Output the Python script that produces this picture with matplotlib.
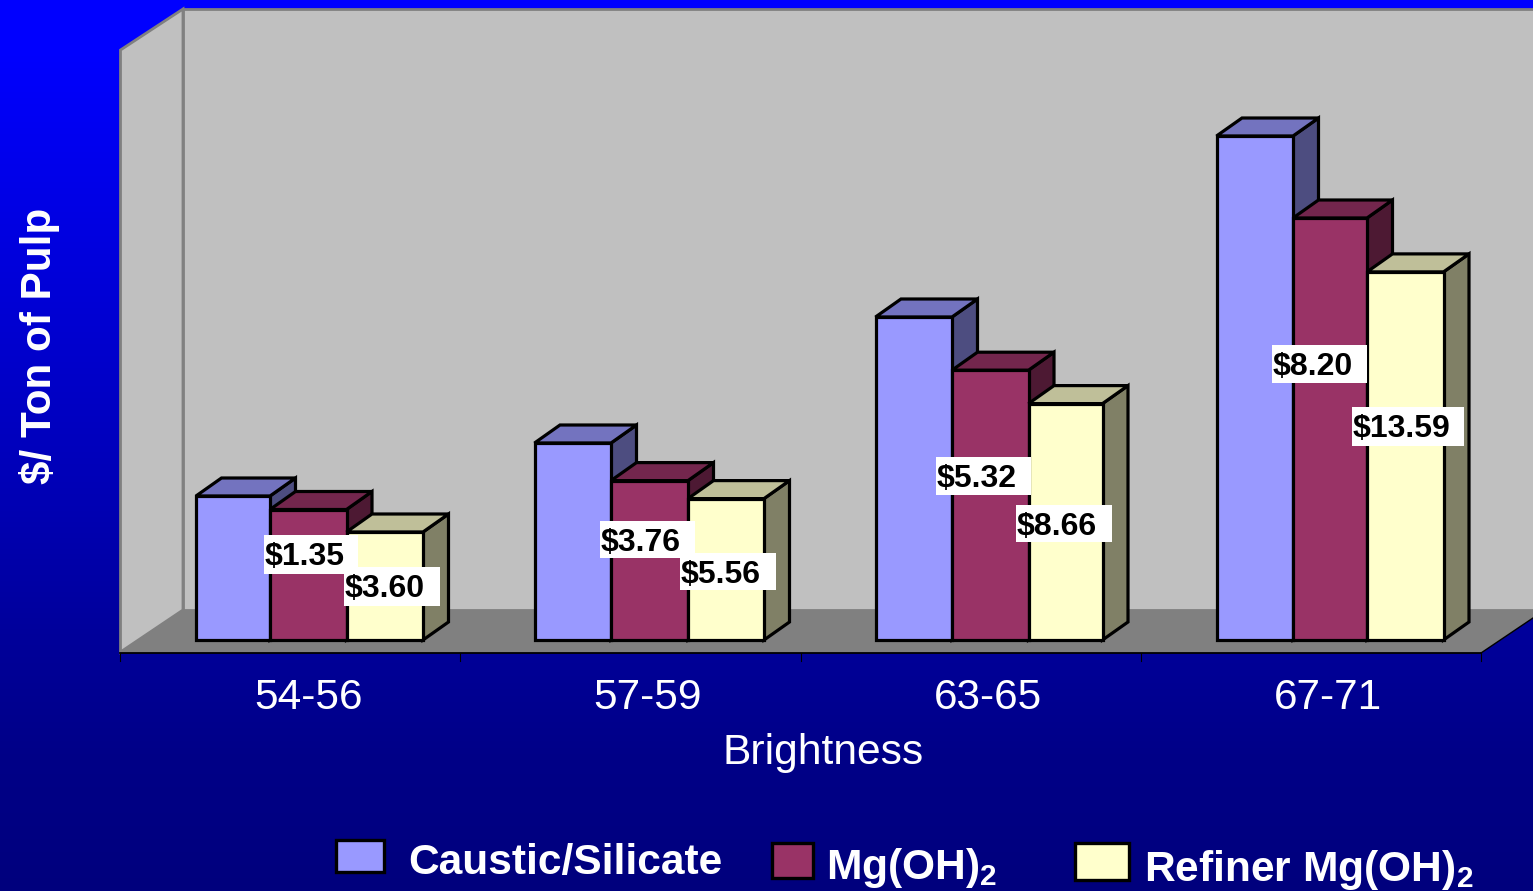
import matplotlib
matplotlib.use('Agg')
import matplotlib.pyplot as plt
from matplotlib.patches import Polygon, Rectangle
import numpy as np

plt.rcParams['font.family'] = ['Liberation Sans', 'DejaVu Sans']
plt.rcParams['mathtext.fontset'] = 'custom'
plt.rcParams['mathtext.bf'] = 'Liberation Sans:bold'
plt.rcParams['mathtext.rm'] = 'Liberation Sans:bold'

# data, $/ton of pulp
categories = ['54-56', '57-59', '63-65', '67-71']
caustic = [14.4, 19.7, 32.3, 50.4]
mg_oh = [13.05, 15.94, 26.98, 42.2]
refiner = [10.8, 14.14, 23.64, 36.81]
mg_labels = ['$1.35', '$3.76', '$5.32', '$8.20']
refiner_labels = ['$3.60', '$5.56', '$8.66', '$13.59']

W, H = 1533, 891
base_px = 640    # pixel row of value 0
px_per_unit = 10.0
depth_x = 25.5
depth_y = 1.8


def py(p):
    return (base_px - p) / px_per_unit


fig = plt.figure(figsize=(W / 100, H / 100), dpi=100)
ax = fig.add_axes([0, 0, 1, 1])
ax.set_xlim(0, W)
ax.set_ylim(py(H), py(0))
ax.axis('off')

# blue background
rows = np.arange(H)
grad = np.zeros((H, 1, 3))
grad[:, 0, 2] = np.interp(rows, [0, 50, 500, 650, 760, 891], [255, 255, 180, 152, 135, 125]) / 255
ax.imshow(grad, extent=(0, W, py(H), py(0)), aspect='auto', zorder=0)

# walls and floor
wall = dict(fc='#C0C0C0', ec='#808080', lw=2.0, zorder=1, joinstyle='miter')
ax.add_patch(Polygon([(120.5, py(50)), (183, py(9)), (183, py(610)), (120.5, py(652))], **wall))
ax.add_patch(Polygon([(183, py(9)), (W + 5, py(9)), (W + 5, py(610)), (183, py(610))], **wall))
ax.add_patch(Polygon([(120, py(653)), (183, py(610)), (W, py(610)), (W, py(618)), (1481, py(653))],
                     fc='#808080', ec='none', zorder=2))
ax.plot([1481, W], [py(653), py(618)], color='black', lw=1, zorder=2)

# category axis line with ticks
ax.plot([120, 1481], [py(653), py(653)], color='black', lw=1.3, zorder=3)
for i in range(5):
    tx = 120 + 340.25 * i
    ax.plot([tx, tx], [py(653), py(661)], color='black', lw=0.8, zorder=3)

bar_edges = [[196, 270, 346.5, 423], [534.5, 611, 688, 764], [875.5, 952, 1028.5, 1102.5], [1216.5, 1293, 1367, 1443.5]]
series = [caustic, mg_oh, refiner]
front = ['#9999FF', '#993366', '#FFFFCC']
top = ['#7373BF', '#73264D', '#BFBF99']
side = ['#4D4D80', '#4D1933', '#808066']
bar_style = dict(ec='black', lw=2.3, joinstyle='miter', zorder=4)

for g in range(len(categories)):
    for s in range(3):
        v = series[s][g]
        x0 = bar_edges[g][s]
        x1 = bar_edges[g][s + 1]
        ax.add_patch(Polygon([(x1, 0), (x1 + depth_x, depth_y), (x1 + depth_x, v + depth_y), (x1, v)],
                             fc=side[s], **bar_style))
        ax.add_patch(Polygon([(x0, v), (x1, v), (x1 + depth_x, v + depth_y), (x0 + depth_x, v + depth_y)],
                             fc=top[s], **bar_style))
        ax.add_patch(Rectangle((x0, 0), x1 - x0, v, fc=front[s], **bar_style))

# value labels in white boxes
mg_box = [(264, 358, 535, 574), (600, 695, 521, 558), (936, 1031, 457, 495), (1272, 1367, 345, 383)]
ref_box = [(344, 440, 567, 606), (680, 776, 553, 590), (1016, 1112, 505, 542), (1352, 1464, 407, 446)]
for labels, boxes in ((mg_labels, mg_box), (refiner_labels, ref_box)):
    for txt, (l, r, t, b) in zip(labels, boxes):
        ax.add_patch(Rectangle((l, py(b)), r - l, py(t) - py(b), fc='white', ec='none', zorder=5))
        ax.text(l + 1, py((t + b) / 2 + 3), txt.replace('$', r'\$'), fontsize=23, fontweight='bold',
                color='black', ha='left', va='center', zorder=6)

# category labels and axis titles
label_x = [309, 648, 988, 1328]
for x, c in zip(label_x, categories):
    ax.text(x, py(698), c, color='white', fontsize=30.5, ha='center', va='center', zorder=6)
ax.text(823, py(753), 'Brightness', color='white', fontsize=30.7, ha='center', va='center', zorder=6)
ax.text(40, py(346), r'\$/ Ton of Pulp', color='white', fontsize=30.4, fontweight='bold',
        rotation=90, ha='center', va='center', zorder=6)

# legend
leg_box = [(336, 384, 840, 872), (772, 813, 843, 878), (1075, 1129, 843, 880)]
leg_text = ['Caustic/Silicate', r'Mg(OH)$_{\mathbf{2}}$', r'Refiner Mg(OH)$_{\mathbf{2}}$']
leg_pos = [(408, 874), (826, 879), (1144, 881)]
leg_size = [30.6, 30.6, 30.6]
for s in range(3):
    l, r, t, b = leg_box[s]
    ax.add_patch(Rectangle((l, py(b)), r - l, py(t) - py(b), fc=front[s], ec='black', lw=2.4,
                           joinstyle='miter', zorder=5))
    ax.text(leg_pos[s][0], py(leg_pos[s][1]), leg_text[s], color='white', fontsize=leg_size[s], fontweight='bold',
            ha='left', va='baseline', zorder=6)

fig.savefig('out.png', dpi=100)
